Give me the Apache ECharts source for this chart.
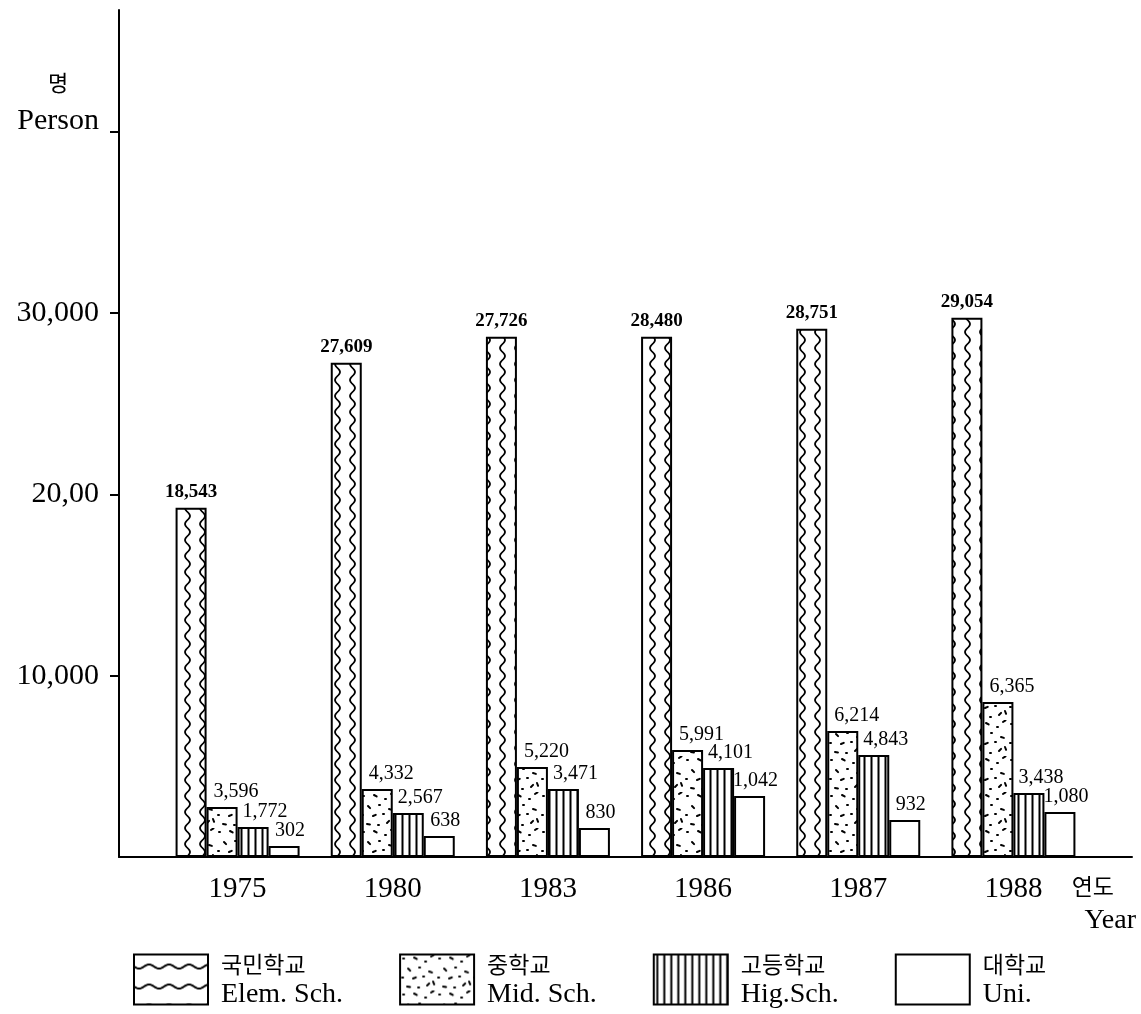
<!DOCTYPE html>
<html>
<head>
<meta charset="utf-8">
<script src="https://cdn.jsdelivr.net/npm/echarts@6/dist/echarts.min.js"></script>
<style>
html,body{margin:0;padding:0;background:#fff;}
#chart{width:1141px;height:1014px;}
</style>
</head>
<body>
<div id="chart"></div>
<script>
// ---- data ----
const years = ['1975', '1980', '1983', '1986', '1987', '1988'];
const seriesKo = ['국민학교', '중학교', '고등학교', '대학교'];
const seriesEn = ['Elem. Sch.', 'Mid. Sch.', 'Hig.Sch.', 'Uni.'];
// bar heights as drawn in the picture (persons)
const elemValues = [19250, 27250, 28680, 28680, 29120, 29730];
const midValues  = [2760, 3750, 4960, 5900, 6950, 8550];
const highValues = [1650, 2430, 3750, 4910, 5630, 3530];
const uniValues  = [600, 1160, 1600, 3360, 2040, 2480];
// value labels printed above the bars
const elemLabels = ['18,543', '27,609', '27,726', '28,480', '28,751', '29,054'];
const midLabels  = ['3,596', '4,332', '5,220', '5,991', '6,214', '6,365'];
const highLabels = ['1,772', '2,567', '3,471', '4,101', '4,843', '3,438'];
const uniLabels  = ['302', '638', '830', '1,042', '932', '1,080'];
// y axis ticks
const yTickValues = [10000, 20000, 30000, 40000];
const yTickLabels = ['10,000', '20,00', '30,000', 'Person'];
const yUnitKo = '명';
const xNameKo = '연도';
const xNameEn = 'Year';
const yMax = 46700;

// ---- fill patterns (style only) ----
function makeCanvas(w, h) {
  const c = document.createElement('canvas');
  c.width = w; c.height = h;
  const ctx = c.getContext('2d');
  ctx.fillStyle = '#fff';
  ctx.fillRect(0, 0, w, h);
  return [c, ctx];
}
function waveVertical() {
  const [c, ctx] = makeCanvas(15, 32);
  ctx.strokeStyle = '#000'; ctx.lineWidth = 1.8;
  ctx.beginPath();
  for (let y = -1; y <= 33; y++) {
    const x = 7.5 + 2.5 * Math.sin(2 * Math.PI * y / 16);
    if (y === -1) ctx.moveTo(x, y); else ctx.lineTo(x, y);
  }
  ctx.stroke();
  return c;
}
function waveHorizontal() {
  const [c, ctx] = makeCanvas(40, 20);
  ctx.strokeStyle = '#000'; ctx.lineWidth = 2;
  ctx.beginPath();
  for (let x = -1; x <= 41; x++) {
    const y = 10 + 2 * Math.sin(2 * Math.PI * x / 20);
    if (x === -1) ctx.moveTo(x, y); else ctx.lineTo(x, y);
  }
  ctx.stroke();
  return c;
}
function dots() {
  const [c, ctx] = makeCanvas(36, 36);
  ctx.strokeStyle = '#000'; ctx.lineWidth = 2; ctx.lineCap = 'round';
  const marks = [[3,4,1,0],[14,3,3,0.5],[25,7,1,0],[31,2,3,-0.6],[8,14,3,0.8],[19,13,1,0],
                 [29,17,3,0.3],[2,23,1,0],[13,24,3,-0.4],[23,22,1,0],[33,27,3,1.2],[7,32,3,0.2],
                 [18,33,1,0],[27,31,3,-0.8]];
  marks.forEach(m => {
    ctx.beginPath();
    ctx.moveTo(m[0], m[1]);
    ctx.lineTo(m[0] + m[2] * Math.cos(m[3]), m[1] + m[2] * Math.sin(m[3]));
    ctx.stroke();
  });
  return c;
}
function stripes() {
  const [c, ctx] = makeCanvas(7, 8);
  ctx.fillStyle = '#000';
  ctx.fillRect(2.5, 0, 2, 8);
  return c;
}
const pElem = { image: waveVertical(), repeat: 'repeat' };
const pElemLegend = { image: waveHorizontal(), repeat: 'repeat', y: 2 };
const pMid = { image: dots(), repeat: 'repeat' };
const pHigh = { image: stripes(), repeat: 'repeat' };

const serif = 'Liberation Serif';
const kr = 'Noto Sans CJK KR';

function barSeries(i, values, labels, fill, labelCfg) {
  return {
    type: 'bar',
    name: seriesKo[i],
    xAxisIndex: 1,
    yAxisIndex: 1,
    data: values,
    barWidth: 31,
    barGap: '0%',
    itemStyle: { color: fill, borderColor: '#000', borderWidth: 2 },
    label: Object.assign({
      show: true,
      position: 'top',
      distance: 5,
      color: '#000',
      fontFamily: serif,
      fontSize: 20,
      formatter: p => labels[p.dataIndex]
    }, labelCfg || {}),
    emphasis: { disabled: true },
    animation: false
  };
}

const chart = echarts.init(document.getElementById('chart'), null, { renderer: 'canvas' });

const yLabelMap = {};
yTickValues.forEach((v, i) => { yLabelMap[v] = yTickLabels[i]; });

chart.setOption({
  backgroundColor: '#fff',
  animation: false,
  grid: [
    { left: 119, right: 9, top: 10, bottom: 157 },
    { left: 160, right: 50, top: 10, bottom: 157 }
  ],
  xAxis: [
    {
      type: 'value', gridIndex: 0, min: 0, max: 1,
      axisLine: { show: true, onZero: false, lineStyle: { color: '#000', width: 2 } },
      axisTick: { show: false }, axisLabel: { show: false }, splitLine: { show: false },
      name: '{k|' + xNameKo + '}\n{e|' + xNameEn + '}',
      nameLocation: 'end',
      nameGap: 4,
      nameTextStyle: {
        align: 'right', verticalAlign: 'top', padding: [14, 0, 0, 0],
        rich: {
          k: { fontFamily: kr, fontSize: 23, lineHeight: 30, color: '#000', padding: [0, 22, 0, 0] },
          e: { fontFamily: serif, fontSize: 28, lineHeight: 40, color: '#000' }
        }
      }
    },
    {
      type: 'category', gridIndex: 1, data: years,
      axisLine: { show: false }, axisTick: { show: false }, splitLine: { show: false },
      axisLabel: { color: '#000', fontFamily: serif, fontSize: 29, margin: 18 }
    }
  ],
  yAxis: [
    {
      type: 'value', gridIndex: 0, min: 0, max: yMax, interval: 10000,
      axisLine: { show: true, onZero: false, lineStyle: { color: '#000', width: 2 } },
      axisTick: { show: true, inside: false, length: 9, customValues: yTickValues,
                  lineStyle: { color: '#000', width: 2 } },
      splitLine: { show: false },
      axisLabel: {
        customValues: yTickValues,
        margin: 20,
        color: '#000',
        formatter: v => {
          const t = yLabelMap[v];
          if (t === undefined) return '';
          if (v === 40000) return '{k|' + yUnitKo + '}\n{p|' + t + '}\n{e| }';
          return '{p|' + t + '}';
        },
        rich: {
          k: { fontFamily: kr, fontSize: 22, lineHeight: 48, width: 82, align: 'center', color: '#000' },
          p: { fontFamily: serif, fontSize: 30, lineHeight: 30, color: '#000' },
          e: { fontSize: 10, lineHeight: 68 }
        }
      }
    },
    {
      type: 'value', gridIndex: 1, min: 0, max: yMax, show: false,
      splitLine: { show: false }
    }
  ],
  legend: {
    left: 128,
    top: 948,
    orient: 'horizontal',
    icon: 'rect',
    itemWidth: 74,
    itemHeight: 50,
    itemGap: 56,
    selectedMode: false,
    data: [
      { name: seriesKo[0], itemStyle: { color: pElemLegend, borderColor: '#000', borderWidth: 2 } },
      { name: seriesKo[1] },
      { name: seriesKo[2] },
      { name: seriesKo[3] }
    ],
    formatter: name => {
      const i = seriesKo.indexOf(name);
      return '{k|' + seriesKo[i] + '}\n{e|' + seriesEn[i] + '}';
    },
    textStyle: {
      rich: {
        k: { fontFamily: kr, fontSize: 23, lineHeight: 30, color: '#000', padding: [0, 0, 0, 8] },
        e: { fontFamily: serif, fontSize: 28, lineHeight: 30, color: '#000', padding: [0, 0, 0, 8] }
      }
    }
  },
  series: [
    barSeries(0, elemValues, elemLabels, pElem, { fontWeight: 'bold', fontSize: 19, distance: 6 }),
    barSeries(1, midValues, midLabels, pMid, { offset: [14, 0] }),
    barSeries(2, highValues, highLabels, pHigh, { offset: [12, 0] }),
    barSeries(3, uniValues, uniLabels, '#fff', { offset: [6, 0] })
  ]
});
</script>
</body>
</html>
